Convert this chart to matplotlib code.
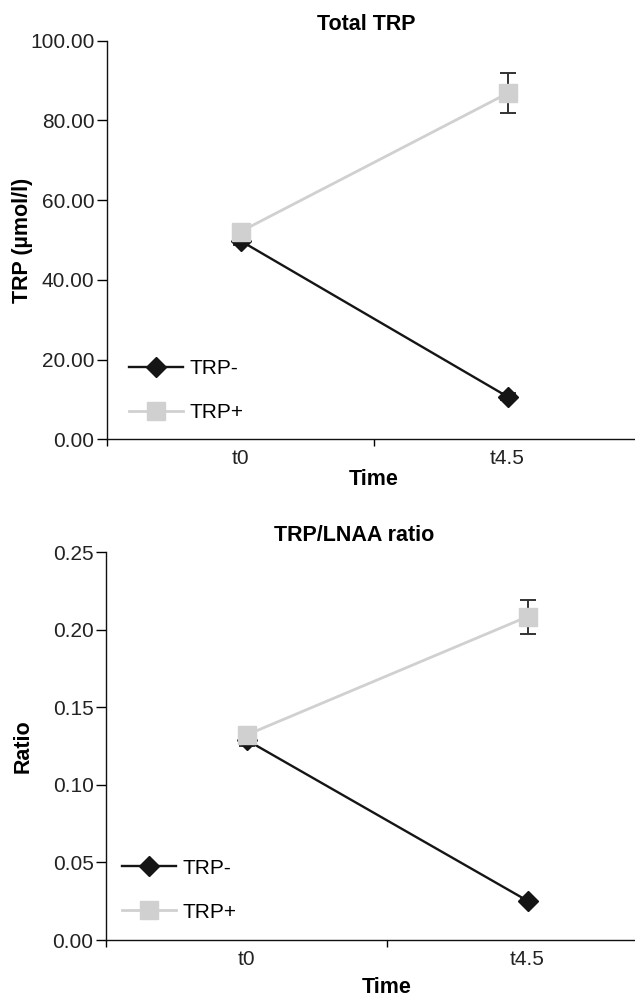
import matplotlib
matplotlib.use("Agg")
import matplotlib.pyplot as plt
from matplotlib.ticker import FixedLocator

plt.rcParams['font.family'] = ['Liberation Sans', 'DejaVu Sans']

times = ['t0', 't4.5']
series = ['TRP-', 'TRP+']

# Total TRP (umol/l)
trp_minus_total = [49.8, 10.7]
trp_minus_total_err = [1.0, 0.8]
trp_plus_total = [52.1, 86.8]
trp_plus_total_err = [1.2, 5.0]

# TRP/LNAA ratio
trp_minus_ratio = [0.129, 0.0253]
trp_minus_ratio_err = [0.004, 0.001]
trp_plus_ratio = [0.1322, 0.2085]
trp_plus_ratio_err = [0.002, 0.011]

BLACK = '#151515'
GREY = '#d0d0d0'
FS = 15

fig = plt.figure(figsize=(6.35, 9.96), dpi=100)
W, H = 635, 996


def make_axes(left, right, top, bottom):
    return fig.add_axes([left / W, 1 - bottom / H, (right - left) / W, (bottom - top) / H])


def draw_panel(ax, minus, minus_err, plus, plus_err, ymax, ystep, fmt,
               title, title_x, ylabel, ylabel_x, xlabel_y, legend_xy):
    x = range(len(times))
    ax.errorbar(x, minus, yerr=minus_err, color=BLACK, lw=1.7, marker='D', ms=10,
                mfc=BLACK, mec=BLACK, ecolor='#333333', elinewidth=1.4, capsize=5.5,
                capthick=1.4, label=series[0], zorder=3)
    ax.errorbar(x, plus, yerr=plus_err, color=GREY, lw=2.0, marker='s', ms=13.5,
                mfc=GREY, mec=GREY, ecolor='#333333', elinewidth=1.4, capsize=5.5,
                capthick=1.4, label=series[1], zorder=4)

    ax.set_xlim(-0.5, len(times) - 0.5)
    ax.set_ylim(0, ymax)
    ticks = [i * ystep for i in range(int(round(ymax / ystep)) + 1)]
    ax.set_yticks(ticks)
    ax.set_yticklabels([fmt.format(t) for t in ticks], fontsize=FS, color='#222222')
    ax.set_xticks(list(x))
    ax.set_xticklabels(times, fontsize=FS, color='#222222')
    ax.xaxis.set_minor_locator(FixedLocator([-0.5, 0.5, 1.5]))
    ax.tick_params(axis='x', which='major', length=0, pad=7)
    ax.tick_params(axis='x', which='minor', length=5, width=1, direction='out')
    ax.tick_params(axis='y', length=7, width=1, pad=2, direction='out')

    for side in ['top', 'right']:
        ax.spines[side].set_visible(False)
    for side in ['left', 'bottom']:
        ax.spines[side].set_linewidth(1.0)
        ax.spines[side].set_color('#111111')

    ax.set_title(title, fontsize=FS + 0.5, fontweight='bold', x=title_x, pad=8)
    ax.set_ylabel(ylabel, fontsize=FS + 0.5, fontweight='bold', va='center')
    ax.yaxis.set_label_coords(ylabel_x, 0.5)
    ax.set_xlabel('Time', fontsize=FS + 0.5, fontweight='bold', va='center')
    ax.xaxis.set_label_coords(0.5, xlabel_y)

    handles, labels = ax.get_legend_handles_labels()
    handles = [h[0] for h in handles]
    ax.legend(handles, labels, loc='center left',
              bbox_to_anchor=(legend_xy[0] / W, 1 - legend_xy[1] / H),
              bbox_transform=fig.transFigure, frameon=False, fontsize=FS,
              handlelength=2.6, handletextpad=0.3, labelspacing=1.2,
              borderpad=0, borderaxespad=0)


ax1 = make_axes(107, 641, 40.7, 439.3)
draw_panel(ax1, trp_minus_total, trp_minus_total_err, trp_plus_total, trp_plus_total_err,
           100, 20, '{:.2f}', 'Total TRP', 0.485, 'TRP (\u00b5mol/l)', -0.159, -0.1,
           (129, 391))

ax2 = make_axes(106, 668, 552.3, 940)
draw_panel(ax2, trp_minus_ratio, trp_minus_ratio_err, trp_plus_ratio, trp_plus_ratio_err,
           0.25, 0.05, '{:.2f}', 'TRP/LNAA ratio', 0.441, 'Ratio', -0.148, -0.122,
           (122, 890))

fig.savefig('out.png', dpi=100)
